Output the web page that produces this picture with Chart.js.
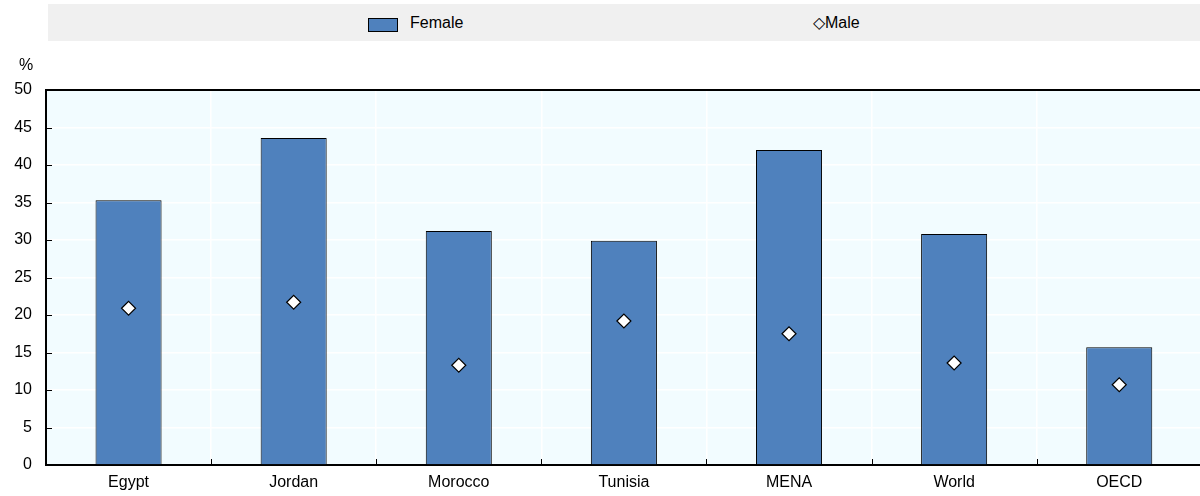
<!DOCTYPE html>
<html><head><meta charset="utf-8">
<script src="https://cdn.jsdelivr.net/npm/chart.js@4/dist/chart.umd.min.js"></script>
<style>
html,body{margin:0;padding:0;background:#fff;overflow:hidden;}
#wrap{position:relative;width:1200px;height:496px;overflow:hidden;font-family:Arial,"Liberation Sans",sans-serif;}
#legend{position:absolute;left:48px;top:4px;width:1152px;height:37px;background:#F0F0F0;font-size:16px;color:#000;}
.li{position:absolute;top:9px;line-height:19px;}
#sw{position:absolute;left:320px;top:14px;width:30px;height:14px;background:#4F81BD;border:1px solid #000;box-sizing:border-box;}
#pct{position:absolute;left:19px;top:56px;font-size:16px;}
canvas{position:absolute;left:0;top:0;}
</style></head>
<body><div id="wrap">
<canvas id="c" width="1210" height="496"></canvas>
<div id="legend"><div id="sw"></div><span class="li" style="left:362px">Female</span><span class="li" style="left:765px">&#9671;Male</span></div>
<div id="pct">%</div>
</div>
<script>
const categories = ["Egypt","Jordan","Morocco","Tunisia","MENA","World","OECD"];
const female = [35.3, 43.6, 31.2, 29.9, 42.0, 30.8, 15.7];
const male = [20.9, 21.7, 13.3, 19.2, 17.5, 13.6, 10.7];
const yTicks = [0,5,10,15,20,25,30,35,40,45,50];

const deco = {
  id:'deco',
  beforeDraw(chart){
    const {ctx, chartArea:a} = chart;
    ctx.save(); ctx.fillStyle='#F2FCFF'; ctx.fillRect(a.left,a.top,a.right-a.left,a.bottom-a.top); ctx.restore();
  },
  beforeDatasetsDraw(chart){
    const {ctx, chartArea:a, scales} = chart;
    ctx.save(); ctx.strokeStyle='#000'; ctx.lineWidth=1;
    const y=scales.y, x=scales.x;
    yTicks.forEach(v=>{const p=Math.round(y.getPixelForValue(v))+0.5; ctx.beginPath(); ctx.moveTo(a.left,p); ctx.lineTo(a.left+6,p); ctx.stroke();});
    for(let i=1;i<categories.length;i++){const p=Math.round((x.getPixelForValue(i-1)+x.getPixelForValue(i))/2)+0.5; ctx.beginPath(); ctx.moveTo(p,a.bottom); ctx.lineTo(p,a.bottom-6); ctx.stroke();}
    ctx.lineWidth=2; ctx.beginPath(); ctx.moveTo(a.left,a.top); ctx.lineTo(a.right,a.top); ctx.stroke();
    ctx.restore();
  }
};

new Chart(document.getElementById('c'),{
  data:{labels:categories,datasets:[
    {type:'line',label:'Male',data:male,showLine:false,pointStyle:'rectRot',pointRadius:7,pointHoverRadius:7,pointBackgroundColor:'#fff',pointBorderColor:'#000',pointBorderWidth:1.2,order:0},
    {type:'bar',label:'Female',data:female,backgroundColor:'#4F81BD',borderColor:'#000',borderWidth:1,barPercentage:0.4,categoryPercentage:1,order:1}
  ]},
  options:{responsive:false,animation:false,devicePixelRatio:1,
    layout:{padding:{top:90,right:0,left:0,bottom:0}},
    plugins:{legend:{display:false},tooltip:{enabled:false}},
    scales:{
      x:{offset:true,grid:{offset:true,color:'#fff',lineWidth:1.5,drawTicks:false},border:{color:'#000',width:2},
        ticks:{color:'#000',font:{family:'Arial, "Liberation Sans"',size:16},padding:8,maxRotation:0},
        afterFit(s){s.height=31;}},
      y:{min:0,max:50,grid:{color:'#fff',lineWidth:1.5,drawTicks:false},border:{color:'#000',width:2},
        ticks:{stepSize:5,color:'#000',font:{family:'Arial, "Liberation Sans"',size:16},padding:14},
        afterFit(s){s.width=46;}}
    }
  },
  plugins:[deco]
});
</script>
</body></html>
